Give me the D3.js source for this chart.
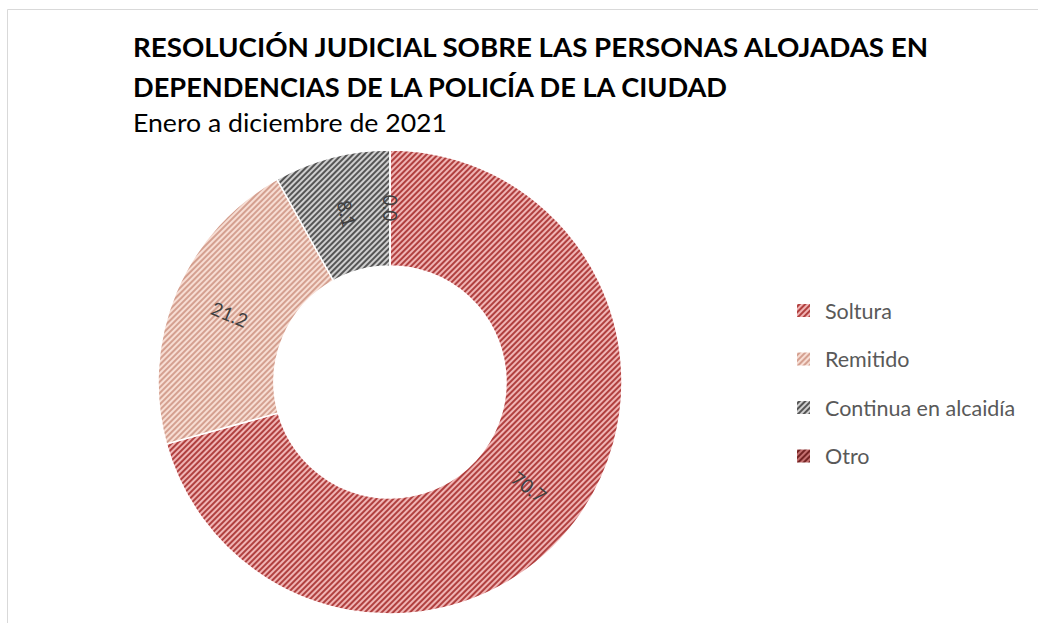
<!DOCTYPE html>
<html lang="es">
<head>
<meta charset="UTF-8">
<title>Resolución judicial</title>
<style>
  html, body { margin: 0; padding: 0; background: #fff; }
  svg { display: block; font-family: Lato, 'Open Sans', sans-serif; }
</style>
</head>
<body>
<div id="vis"></div>
<script src="https://d3js.org/d3.v7.min.js"></script>
<script>
// chart data
var categories = ["Soltura", "Remitido", "Continua en alcaidía", "Otro"];
var values = [70.7, 21.2, 8.1, 0.0];
var titleLines = ["RESOLUCIÓN JUDICIAL SOBRE  LAS PERSONAS ALOJADAS EN",
                  "DEPENDENCIAS DE LA POLICÍA DE LA CIUDAD"];
var subtitle = "Enero a diciembre de 2021";

// fill styles: background + stripe colour per category
var bgColors = ["#f0b4b4", "#f7ddd3", "#cfcfcf", "#c47070"];
var stripeColors = ["#b0403f", "#d4a090", "#555555", "#742424"];

var width = 1038, height = 623;
var cx = 390, cy = 382, rOuter = 232, rInner = 116;

var svg = d3.select("#vis").append("svg")
    .attr("width", width)
    .attr("height", height);

// chart area border
svg.append("path")
    .attr("d", "M7.5," + height + " V9.5 H" + width)
    .attr("fill", "none")
    .attr("stroke", "#d9d9d9")
    .attr("stroke-width", 1);

// stripe patterns
var defs = svg.append("defs");
categories.forEach(function(c, i) {
  var p = defs.append("pattern")
      .attr("id", "pat" + i)
      .attr("patternUnits", "userSpaceOnUse")
      .attr("width", 4)
      .attr("height", 4)
      .attr("patternTransform", "rotate(45)");
  p.append("rect").attr("width", 4).attr("height", 4).attr("fill", bgColors[i]);
  p.append("rect").attr("width", 2).attr("height", 4).attr("fill", stripeColors[i]);
});

// titles
var titleLen = [795, 594];
titleLines.forEach(function(t, i) {
  svg.append("text")
      .attr("x", 133)
      .attr("y", 57 + i * 40)
      .attr("font-size", 27)
      .attr("font-weight", "bold")
      .attr("fill", "#000")
      .attr("textLength", titleLen[i])
      .attr("lengthAdjust", "spacingAndGlyphs")
      .text(t);
});
svg.append("text")
    .attr("x", 133)
    .attr("y", 132)
    .attr("font-size", 25)
    .attr("fill", "#000")
    .attr("textLength", 314)
    .attr("lengthAdjust", "spacingAndGlyphs")
    .text(subtitle);

// donut
var pie = d3.pie().sort(null).value(function(d) { return d; });
var arcs = pie(values);
var arc = d3.arc().innerRadius(rInner).outerRadius(rOuter);

var g = svg.append("g").attr("transform", "translate(" + cx + "," + cy + ")");

g.selectAll(".slice")
  .data(arcs)
  .enter()
  .append("path")
    .attr("class", "slice")
    .attr("d", arc)
    .attr("fill", function(d, i) { return "url(#pat" + i + ")"; })
    .attr("stroke", "#fff")
    .attr("stroke-width", 1.5);

// labels rotated along the radius
g.selectAll(".label")
  .data(arcs)
  .enter()
  .append("text")
    .attr("class", "label")
    .attr("transform", function(d) {
      var c = arc.centroid(d);
      var a = (d.startAngle + d.endAngle) / 2 * 180 / Math.PI;
      var r = a - 90;
      if (r > 90) r -= 180;
      return "translate(" + c[0] + "," + c[1] + ") rotate(" + r + ")";
    })
    .attr("text-anchor", "middle")
    .attr("dy", "0.35em")
    .attr("font-size", 19)
    .attr("fill", "#404040")
    .text(function(d) { return d.data.toFixed(1); });

// legend
var legend = svg.append("g").attr("transform", "translate(797,311)");
var rows = legend.selectAll(".row")
  .data(categories)
  .enter()
  .append("g")
    .attr("class", "row")
    .attr("transform", function(d, i) { return "translate(0," + (i * 48.5) + ")"; });

rows.append("rect")
    .attr("x", 0)
    .attr("y", -7)
    .attr("width", 13)
    .attr("height", 13)
    .attr("fill", function(d, i) { return "url(#pat" + i + ")"; });

rows.append("text")
    .attr("x", 28)
    .attr("dy", "0.35em")
    .attr("font-size", 21.5)
    .attr("fill", "#595959")
    .text(function(d) { return d; });
</script>
</body>
</html>
